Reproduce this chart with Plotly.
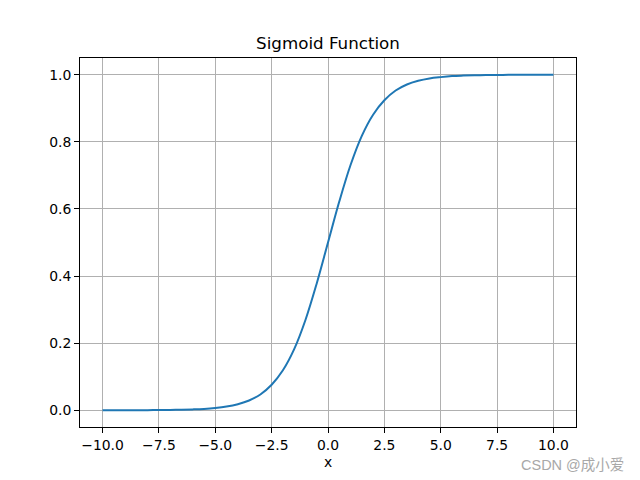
import plotly.graph_objects as go

# values
x_vals = [-10, -9.5, -9, -8.5, -8, -7.5, -7, -6.5, -6, -5.5, -5, -4.5, -4, -3.5, -3,
          -2.5, -2, -1.5, -1, -0.5, 0, 0.5, 1, 1.5, 2, 2.5, 3, 3.5, 4, 4.5, 5,
          5.5, 6, 6.5, 7, 7.5, 8, 8.5, 9, 9.5, 10]
y_vals = [0.00005, 0.0001, 0.0001, 0.0002, 0.0003, 0.0006, 0.0009, 0.0015, 0.0025, 0.004, 0.0067,
          0.011, 0.018, 0.029, 0.047, 0.076, 0.119, 0.182, 0.269, 0.378, 0.5,
          0.622, 0.731, 0.818, 0.881, 0.924, 0.953, 0.971, 0.982, 0.989, 0.993,
          0.996, 0.9975, 0.9985, 0.999, 0.9994, 0.9997, 0.9998, 0.9999, 0.9999, 1.0]

x_ticks = [-10, -7.5, -5, -2.5, 0, 2.5, 5, 7.5, 10]
x_tick_text = ["\u221210.0", "\u22127.5", "\u22125.0", "\u22122.5", "0.0", "2.5", "5.0", "7.5", "10.0"]
y_ticks = [0.0, 0.2, 0.4, 0.6, 0.8, 1.0]
y_tick_text = ["0.0", "0.2", "0.4", "0.6", "0.8", "1.0"]

title_text = "Sigmoid Function"
x_label = "x"
watermark = "CSDN @成小爱"

font = "DejaVu Sans"

fig = go.Figure()
fig.add_trace(go.Scatter(x=x_vals, y=y_vals, mode="lines",
                         line=dict(color="#1f77b4", width=2, shape="spline", smoothing=1.0),
                         showlegend=False, hoverinfo="skip"))

L, R, T, B = 80, 64, 58, 53
ph = 480 - T - B

axis_common = dict(showline=True, linecolor="black", linewidth=1, mirror=True,
                   ticks="outside", ticklen=5, tickwidth=1, tickcolor="black",
                   showgrid=True, gridcolor="#b0b0b0", gridwidth=0.8, zeroline=False,
                   tickfont=dict(family=font, size=13.9, color="black"))

fig.update_layout(
    width=640, height=480,
    margin=dict(l=L, r=R, t=T, b=B, pad=0),
    paper_bgcolor="white", plot_bgcolor="white",
    xaxis=dict(range=[-11.0, 11.0], tickvals=x_ticks, ticktext=x_tick_text, **axis_common),
    yaxis=dict(range=[-0.05, 1.05], tickvals=y_ticks, ticktext=y_tick_text, **axis_common),
    title=dict(text=title_text, x=0.5, xref="paper", xanchor="center",
               y=1 - 43 / 480, yref="container", yanchor="middle",
               font=dict(family=font, size=16.7, color="black")),
    annotations=[
        dict(text=x_label, x=0.5, xref="paper", y=(427 - 462) / ph, yref="paper",
             xanchor="center", yanchor="middle", showarrow=False,
             font=dict(family=font, size=13.9, color="black")),
        dict(text=watermark, x=(626 - L) / (640 - L - R), xref="paper",
             y=(427 - 465) / ph, yref="paper", xanchor="right", yanchor="middle",
             showarrow=False,
             font=dict(family="Liberation Sans, Noto Sans CJK SC", size=14.5, color="#a8a8a8")),
    ],
)

fig.write_html("out.html")
